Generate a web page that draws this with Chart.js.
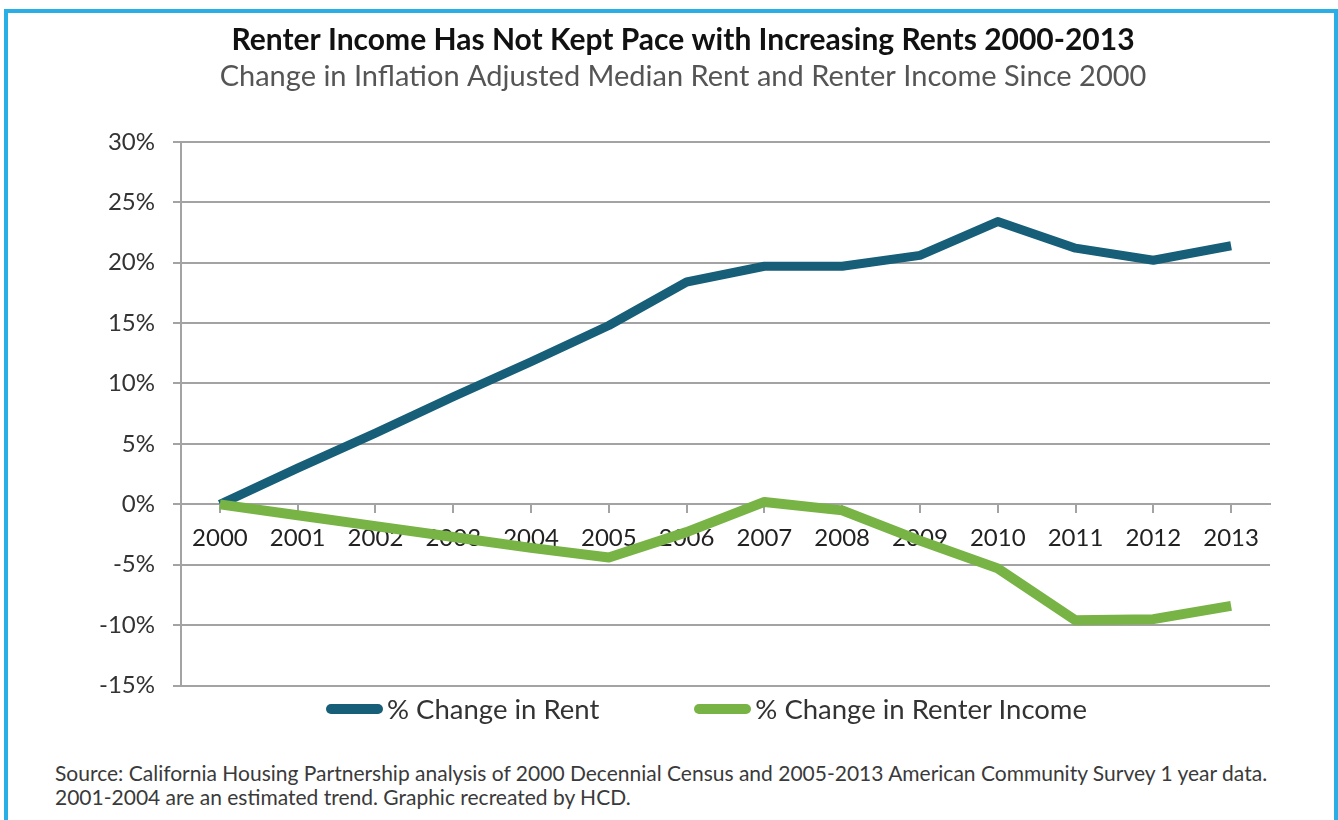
<!DOCTYPE html>
<html lang="en">
<head>
<meta charset="UTF-8">
<title>Renter Income vs Rents 2000-2013</title>
<script src="https://cdn.jsdelivr.net/npm/chart.js"></script>
<style>
  body { margin: 0; width: 1338px; height: 820px; overflow: hidden; background: #fff; font-family: Lato, sans-serif; }
  .frame { position: absolute; left: 4px; top: 9px; width: 1326px; height: 900px; border: 4px solid #2aaee6; }
  .plot { position: absolute; left: 0; top: 0; width: 1338px; height: 718px; }
  #legend { position: absolute; left: 326px; top: 692px; display: flex; gap: 95px; font-size: 27.5px; color: #333; }
  #legend .item { display: flex; align-items: center; gap: 4px; }
  #legend .swatch { display: inline-block; width: 57px; height: 10px; border-radius: 5px; }
  .source { position: absolute; left: 55px; top: 761px; font-size: 21px; line-height: 24px; color: #3a3a3a; }
</style>
</head>
<body>
  <div class="frame"></div>
  <div class="plot"><canvas id="linechart"></canvas></div>
  <div id="legend"></div>
  <div class="source">Source: California Housing Partnership analysis of 2000 Decennial Census and 2005-2013 American Community Survey 1 year data.<br>2001-2004 are an estimated trend. Graphic recreated by HCD.</div>
<script>
  const years = ['2000', '2001', '2002', '2003', '2004', '2005', '2006', '2007', '2008', '2009', '2010', '2011', '2012', '2013'];
  const rentChange = [0, 3.0, 5.9, 8.9, 11.8, 14.8, 18.4, 19.7, 19.7, 20.6, 23.4, 21.2, 20.2, 21.4];
  const incomeChange = [0, -0.9, -1.8, -2.7, -3.6, -4.4, -2.3, 0.2, -0.5, -3.0, -5.3, -9.6, -9.5, -8.4];
  const yMin = -15, yMax = 30, yStep = 5;

  Chart.defaults.font.family = 'Lato';

  // legend drawn as html so the two items can sit far apart
  const htmlLegend = {
    id: 'htmlLegend',
    afterUpdate(chart) {
      const box = document.getElementById('legend');
      box.innerHTML = '';
      const items = chart.options.plugins.legend.labels.generateLabels(chart);
      items.sort((a, b) => a.datasetIndex - b.datasetIndex).forEach(item => {
        const row = document.createElement('div');
        row.className = 'item';
        const sw = document.createElement('span');
        sw.className = 'swatch';
        sw.style.background = item.strokeStyle;
        const txt = document.createElement('span');
        txt.textContent = item.text;
        row.append(sw, txt);
        box.append(row);
      });
    }
  };

  const gridGrey = '#a3a3a3';

  new Chart(document.getElementById('linechart'), {
    type: 'line',
    data: {
      labels: years,
      datasets: [{
        label: '% Change in Rent',
        data: rentChange,
        borderColor: '#175e78',
        backgroundColor: '#175e78',
        borderWidth: 9,
        borderJoinStyle: 'round',
        pointRadius: 0,
        tension: 0,
        order: 1
      }, {
        label: '% Change in Renter Income',
        data: incomeChange,
        borderColor: '#78b345',
        backgroundColor: '#78b345',
        borderWidth: 10,
        borderJoinStyle: 'round',
        pointRadius: 0,
        tension: 0,
        order: 0
      }]
    },
    options: {
      responsive: true,
      maintainAspectRatio: false,
      animation: false,
      // left padding pulls the title centre right, toward where the original sits
      layout: { padding: { top: 0, right: 68, bottom: 15, left: 96 } },
      plugins: {
        legend: { display: false },
        tooltip: { enabled: false },
        title: {
          display: true,
          text: 'Renter Income Has Not Kept Pace with Increasing Rents 2000-2013',
          font: { size: 30, weight: 'bold' },
          color: '#111',
          padding: { top: 22, bottom: 0 }
        },
        subtitle: {
          display: true,
          text: 'Change in Inflation Adjusted Median Rent and Renter Income Since 2000',
          font: { size: 29 },
          color: '#555',
          padding: { top: 1, bottom: 48 }
        }
      },
      scales: {
        y: {
          min: yMin,
          max: yMax,
          ticks: { stepSize: yStep, callback: v => v + '%', font: { size: 24 }, color: '#333', padding: 18 },
          grid: { color: gridGrey, lineWidth: 2, tickLength: 8 },
          border: { color: gridGrey, width: 2 },
          afterFit: s => { s.width = 85; }
        },
        x: {
          position: { y: 0 },
          offset: true,
          grid: { drawOnChartArea: false, tickLength: 8, color: gridGrey, lineWidth: 2 },
          border: { color: gridGrey, width: 2 },
          ticks: { font: { size: 24 }, color: '#222', padding: 12, maxRotation: 0, autoSkip: false }
        }
      }
    },
    plugins: [htmlLegend]
  });
</script>
</body>
</html>
